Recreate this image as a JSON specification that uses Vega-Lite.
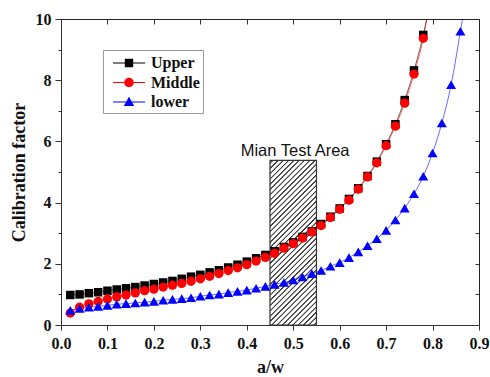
{
  "$schema": "https://vega.github.io/schema/vega-lite/v6.json",
  "autosize": "none",
  "width": 418,
  "height": 306,
  "padding": {"left": 61, "top": 19, "right": 11, "bottom": 52},
  "background": "white",
  "config": {
    "view": {"stroke": "#222", "strokeWidth": 1},
    "axis": {"grid": false}
  },
  "datasets": {
    "curves": [
      {"x": 0.02, "y": 0.98, "s": "Upper"}, {"x": 0.04, "y": 1.00, "s": "Upper"}, {"x": 0.06, "y": 1.04, "s": "Upper"}, {"x": 0.08, "y": 1.07, "s": "Upper"},
      {"x": 0.10, "y": 1.12, "s": "Upper"}, {"x": 0.12, "y": 1.16, "s": "Upper"}, {"x": 0.14, "y": 1.20, "s": "Upper"}, {"x": 0.16, "y": 1.24, "s": "Upper"},
      {"x": 0.18, "y": 1.29, "s": "Upper"}, {"x": 0.20, "y": 1.34, "s": "Upper"}, {"x": 0.22, "y": 1.39, "s": "Upper"}, {"x": 0.24, "y": 1.44, "s": "Upper"},
      {"x": 0.26, "y": 1.51, "s": "Upper"}, {"x": 0.28, "y": 1.58, "s": "Upper"}, {"x": 0.30, "y": 1.64, "s": "Upper"}, {"x": 0.32, "y": 1.72, "s": "Upper"},
      {"x": 0.34, "y": 1.79, "s": "Upper"}, {"x": 0.36, "y": 1.88, "s": "Upper"}, {"x": 0.38, "y": 1.97, "s": "Upper"}, {"x": 0.40, "y": 2.07, "s": "Upper"},
      {"x": 0.42, "y": 2.18, "s": "Upper"}, {"x": 0.44, "y": 2.29, "s": "Upper"}, {"x": 0.46, "y": 2.41, "s": "Upper"}, {"x": 0.48, "y": 2.55, "s": "Upper"},
      {"x": 0.50, "y": 2.70, "s": "Upper"}, {"x": 0.52, "y": 2.88, "s": "Upper"}, {"x": 0.54, "y": 3.06, "s": "Upper"}, {"x": 0.56, "y": 3.30, "s": "Upper"},
      {"x": 0.58, "y": 3.54, "s": "Upper"}, {"x": 0.60, "y": 3.81, "s": "Upper"}, {"x": 0.62, "y": 4.12, "s": "Upper"}, {"x": 0.64, "y": 4.47, "s": "Upper"},
      {"x": 0.66, "y": 4.87, "s": "Upper"}, {"x": 0.68, "y": 5.34, "s": "Upper"}, {"x": 0.70, "y": 5.91, "s": "Upper"}, {"x": 0.72, "y": 6.56, "s": "Upper"},
      {"x": 0.74, "y": 7.35, "s": "Upper"}, {"x": 0.76, "y": 8.32, "s": "Upper"}, {"x": 0.78, "y": 9.48, "s": "Upper"}, {"x": 0.79, "y": 10.2, "s": "Upper", "tail": true},
      {"x": 0.02, "y": 0.39, "s": "Middle"}, {"x": 0.04, "y": 0.58, "s": "Middle"}, {"x": 0.06, "y": 0.69, "s": "Middle"}, {"x": 0.08, "y": 0.77, "s": "Middle"},
      {"x": 0.10, "y": 0.85, "s": "Middle"}, {"x": 0.12, "y": 0.92, "s": "Middle"}, {"x": 0.14, "y": 0.98, "s": "Middle"}, {"x": 0.16, "y": 1.05, "s": "Middle"},
      {"x": 0.18, "y": 1.12, "s": "Middle"}, {"x": 0.20, "y": 1.17, "s": "Middle"}, {"x": 0.22, "y": 1.24, "s": "Middle"}, {"x": 0.24, "y": 1.30, "s": "Middle"},
      {"x": 0.26, "y": 1.36, "s": "Middle"}, {"x": 0.28, "y": 1.43, "s": "Middle"}, {"x": 0.30, "y": 1.51, "s": "Middle"}, {"x": 0.32, "y": 1.59, "s": "Middle"},
      {"x": 0.34, "y": 1.68, "s": "Middle"}, {"x": 0.36, "y": 1.78, "s": "Middle"}, {"x": 0.38, "y": 1.87, "s": "Middle"}, {"x": 0.40, "y": 1.97, "s": "Middle"},
      {"x": 0.42, "y": 2.09, "s": "Middle"}, {"x": 0.44, "y": 2.21, "s": "Middle"}, {"x": 0.46, "y": 2.34, "s": "Middle"}, {"x": 0.48, "y": 2.51, "s": "Middle"},
      {"x": 0.50, "y": 2.66, "s": "Middle"}, {"x": 0.52, "y": 2.84, "s": "Middle"}, {"x": 0.54, "y": 3.04, "s": "Middle"}, {"x": 0.56, "y": 3.25, "s": "Middle"},
      {"x": 0.58, "y": 3.51, "s": "Middle"}, {"x": 0.60, "y": 3.78, "s": "Middle"}, {"x": 0.62, "y": 4.08, "s": "Middle"}, {"x": 0.64, "y": 4.44, "s": "Middle"},
      {"x": 0.66, "y": 4.84, "s": "Middle"}, {"x": 0.68, "y": 5.30, "s": "Middle"}, {"x": 0.70, "y": 5.86, "s": "Middle"}, {"x": 0.72, "y": 6.50, "s": "Middle"},
      {"x": 0.74, "y": 7.25, "s": "Middle"}, {"x": 0.76, "y": 8.20, "s": "Middle"}, {"x": 0.78, "y": 9.37, "s": "Middle"}, {"x": 0.79, "y": 10.2, "s": "Middle", "tail": true},
      {"x": 0.02, "y": 0.48, "s": "lower"}, {"x": 0.04, "y": 0.54, "s": "lower"}, {"x": 0.06, "y": 0.58, "s": "lower"}, {"x": 0.08, "y": 0.61, "s": "lower"},
      {"x": 0.10, "y": 0.64, "s": "lower"}, {"x": 0.12, "y": 0.68, "s": "lower"}, {"x": 0.14, "y": 0.70, "s": "lower"}, {"x": 0.16, "y": 0.72, "s": "lower"},
      {"x": 0.18, "y": 0.75, "s": "lower"}, {"x": 0.20, "y": 0.77, "s": "lower"}, {"x": 0.22, "y": 0.81, "s": "lower"}, {"x": 0.24, "y": 0.84, "s": "lower"},
      {"x": 0.26, "y": 0.86, "s": "lower"}, {"x": 0.28, "y": 0.89, "s": "lower"}, {"x": 0.30, "y": 0.94, "s": "lower"}, {"x": 0.32, "y": 0.98, "s": "lower"},
      {"x": 0.34, "y": 1.01, "s": "lower"}, {"x": 0.36, "y": 1.06, "s": "lower"}, {"x": 0.38, "y": 1.10, "s": "lower"}, {"x": 0.40, "y": 1.14, "s": "lower"},
      {"x": 0.42, "y": 1.20, "s": "lower"}, {"x": 0.44, "y": 1.26, "s": "lower"}, {"x": 0.46, "y": 1.33, "s": "lower"}, {"x": 0.48, "y": 1.39, "s": "lower"},
      {"x": 0.50, "y": 1.47, "s": "lower"}, {"x": 0.52, "y": 1.57, "s": "lower"}, {"x": 0.54, "y": 1.68, "s": "lower"}, {"x": 0.56, "y": 1.78, "s": "lower"},
      {"x": 0.58, "y": 1.92, "s": "lower"}, {"x": 0.60, "y": 2.04, "s": "lower"}, {"x": 0.62, "y": 2.20, "s": "lower"}, {"x": 0.64, "y": 2.39, "s": "lower"},
      {"x": 0.66, "y": 2.59, "s": "lower"}, {"x": 0.68, "y": 2.82, "s": "lower"}, {"x": 0.70, "y": 3.09, "s": "lower"}, {"x": 0.72, "y": 3.43, "s": "lower"},
      {"x": 0.74, "y": 3.82, "s": "lower"}, {"x": 0.76, "y": 4.29, "s": "lower"}, {"x": 0.78, "y": 4.86, "s": "lower"}, {"x": 0.80, "y": 5.62, "s": "lower"},
      {"x": 0.82, "y": 6.60, "s": "lower"}, {"x": 0.84, "y": 7.85, "s": "lower"}, {"x": 0.86, "y": 9.60, "s": "lower"}, {"x": 0.87, "y": 10.5, "s": "lower", "tail": true}
    ],
    "box": [{"x0": 0.45, "x1": 0.55, "y0": 0, "y1": 5.38}],
    "note": [{"x": 0.504, "y": 5.53, "label": "Mian Test Area"}]
  },
  "layer": [
    {
      "data": {"name": "box"},
      "mark": {
        "type": "rect",
        "stroke": "#333",
        "strokeWidth": 1.2,
        "fill": {
          "gradient": "linear", "x1": 0, "y1": 0, "x2": 0.3349, "y2": 1.1876,
          "stops": [
            {"offset": 0.000, "color": "#ffffff"},
            {"offset": 0.008, "color": "#ffffff"}, {"offset": 0.011, "color": "#444444"}, {"offset": 0.016, "color": "#444444"}, {"offset": 0.019, "color": "#ffffff"},
            {"offset": 0.033, "color": "#ffffff"}, {"offset": 0.036, "color": "#444444"}, {"offset": 0.041, "color": "#444444"}, {"offset": 0.044, "color": "#ffffff"},
            {"offset": 0.058, "color": "#ffffff"}, {"offset": 0.061, "color": "#444444"}, {"offset": 0.066, "color": "#444444"}, {"offset": 0.069, "color": "#ffffff"},
            {"offset": 0.083, "color": "#ffffff"}, {"offset": 0.086, "color": "#444444"}, {"offset": 0.091, "color": "#444444"}, {"offset": 0.094, "color": "#ffffff"},
            {"offset": 0.108, "color": "#ffffff"}, {"offset": 0.111, "color": "#444444"}, {"offset": 0.116, "color": "#444444"}, {"offset": 0.119, "color": "#ffffff"},
            {"offset": 0.133, "color": "#ffffff"}, {"offset": 0.136, "color": "#444444"}, {"offset": 0.141, "color": "#444444"}, {"offset": 0.144, "color": "#ffffff"},
            {"offset": 0.158, "color": "#ffffff"}, {"offset": 0.161, "color": "#444444"}, {"offset": 0.166, "color": "#444444"}, {"offset": 0.169, "color": "#ffffff"},
            {"offset": 0.183, "color": "#ffffff"}, {"offset": 0.186, "color": "#444444"}, {"offset": 0.191, "color": "#444444"}, {"offset": 0.194, "color": "#ffffff"},
            {"offset": 0.208, "color": "#ffffff"}, {"offset": 0.211, "color": "#444444"}, {"offset": 0.216, "color": "#444444"}, {"offset": 0.219, "color": "#ffffff"},
            {"offset": 0.233, "color": "#ffffff"}, {"offset": 0.236, "color": "#444444"}, {"offset": 0.241, "color": "#444444"}, {"offset": 0.244, "color": "#ffffff"},
            {"offset": 0.258, "color": "#ffffff"}, {"offset": 0.261, "color": "#444444"}, {"offset": 0.266, "color": "#444444"}, {"offset": 0.269, "color": "#ffffff"},
            {"offset": 0.283, "color": "#ffffff"}, {"offset": 0.286, "color": "#444444"}, {"offset": 0.291, "color": "#444444"}, {"offset": 0.294, "color": "#ffffff"},
            {"offset": 0.308, "color": "#ffffff"}, {"offset": 0.311, "color": "#444444"}, {"offset": 0.316, "color": "#444444"}, {"offset": 0.319, "color": "#ffffff"},
            {"offset": 0.333, "color": "#ffffff"}, {"offset": 0.336, "color": "#444444"}, {"offset": 0.341, "color": "#444444"}, {"offset": 0.344, "color": "#ffffff"},
            {"offset": 0.358, "color": "#ffffff"}, {"offset": 0.361, "color": "#444444"}, {"offset": 0.366, "color": "#444444"}, {"offset": 0.369, "color": "#ffffff"},
            {"offset": 0.383, "color": "#ffffff"}, {"offset": 0.386, "color": "#444444"}, {"offset": 0.391, "color": "#444444"}, {"offset": 0.394, "color": "#ffffff"},
            {"offset": 0.408, "color": "#ffffff"}, {"offset": 0.411, "color": "#444444"}, {"offset": 0.416, "color": "#444444"}, {"offset": 0.419, "color": "#ffffff"},
            {"offset": 0.433, "color": "#ffffff"}, {"offset": 0.436, "color": "#444444"}, {"offset": 0.441, "color": "#444444"}, {"offset": 0.444, "color": "#ffffff"},
            {"offset": 0.458, "color": "#ffffff"}, {"offset": 0.461, "color": "#444444"}, {"offset": 0.466, "color": "#444444"}, {"offset": 0.469, "color": "#ffffff"},
            {"offset": 0.483, "color": "#ffffff"}, {"offset": 0.486, "color": "#444444"}, {"offset": 0.491, "color": "#444444"}, {"offset": 0.494, "color": "#ffffff"},
            {"offset": 0.508, "color": "#ffffff"}, {"offset": 0.511, "color": "#444444"}, {"offset": 0.516, "color": "#444444"}, {"offset": 0.519, "color": "#ffffff"},
            {"offset": 0.533, "color": "#ffffff"}, {"offset": 0.536, "color": "#444444"}, {"offset": 0.541, "color": "#444444"}, {"offset": 0.544, "color": "#ffffff"},
            {"offset": 0.558, "color": "#ffffff"}, {"offset": 0.561, "color": "#444444"}, {"offset": 0.566, "color": "#444444"}, {"offset": 0.569, "color": "#ffffff"},
            {"offset": 0.583, "color": "#ffffff"}, {"offset": 0.586, "color": "#444444"}, {"offset": 0.591, "color": "#444444"}, {"offset": 0.594, "color": "#ffffff"},
            {"offset": 0.608, "color": "#ffffff"}, {"offset": 0.611, "color": "#444444"}, {"offset": 0.616, "color": "#444444"}, {"offset": 0.619, "color": "#ffffff"},
            {"offset": 0.633, "color": "#ffffff"}, {"offset": 0.636, "color": "#444444"}, {"offset": 0.641, "color": "#444444"}, {"offset": 0.644, "color": "#ffffff"},
            {"offset": 0.658, "color": "#ffffff"}, {"offset": 0.661, "color": "#444444"}, {"offset": 0.666, "color": "#444444"}, {"offset": 0.669, "color": "#ffffff"},
            {"offset": 0.683, "color": "#ffffff"}, {"offset": 0.686, "color": "#444444"}, {"offset": 0.691, "color": "#444444"}, {"offset": 0.694, "color": "#ffffff"},
            {"offset": 0.708, "color": "#ffffff"}, {"offset": 0.711, "color": "#444444"}, {"offset": 0.716, "color": "#444444"}, {"offset": 0.719, "color": "#ffffff"},
            {"offset": 0.733, "color": "#ffffff"}, {"offset": 0.736, "color": "#444444"}, {"offset": 0.741, "color": "#444444"}, {"offset": 0.744, "color": "#ffffff"},
            {"offset": 0.758, "color": "#ffffff"}, {"offset": 0.761, "color": "#444444"}, {"offset": 0.766, "color": "#444444"}, {"offset": 0.769, "color": "#ffffff"},
            {"offset": 0.783, "color": "#ffffff"}, {"offset": 0.786, "color": "#444444"}, {"offset": 0.791, "color": "#444444"}, {"offset": 0.794, "color": "#ffffff"},
            {"offset": 0.808, "color": "#ffffff"}, {"offset": 0.811, "color": "#444444"}, {"offset": 0.816, "color": "#444444"}, {"offset": 0.819, "color": "#ffffff"},
            {"offset": 0.833, "color": "#ffffff"}, {"offset": 0.836, "color": "#444444"}, {"offset": 0.841, "color": "#444444"}, {"offset": 0.844, "color": "#ffffff"},
            {"offset": 0.858, "color": "#ffffff"}, {"offset": 0.861, "color": "#444444"}, {"offset": 0.866, "color": "#444444"}, {"offset": 0.869, "color": "#ffffff"},
            {"offset": 0.883, "color": "#ffffff"}, {"offset": 0.886, "color": "#444444"}, {"offset": 0.891, "color": "#444444"}, {"offset": 0.894, "color": "#ffffff"},
            {"offset": 0.908, "color": "#ffffff"}, {"offset": 0.911, "color": "#444444"}, {"offset": 0.916, "color": "#444444"}, {"offset": 0.919, "color": "#ffffff"},
            {"offset": 0.933, "color": "#ffffff"}, {"offset": 0.936, "color": "#444444"}, {"offset": 0.941, "color": "#444444"}, {"offset": 0.944, "color": "#ffffff"},
            {"offset": 0.958, "color": "#ffffff"}, {"offset": 0.961, "color": "#444444"}, {"offset": 0.966, "color": "#444444"}, {"offset": 0.969, "color": "#ffffff"},
            {"offset": 0.983, "color": "#ffffff"}, {"offset": 0.986, "color": "#444444"}, {"offset": 0.991, "color": "#444444"}, {"offset": 0.994, "color": "#ffffff"},
            {"offset": 1.000, "color": "#ffffff"}
          ]
        }
      },
      "encoding": {
        "x": {"field": "x0", "type": "quantitative", "scale": {"domain": [0, 0.9], "nice": false},
              "axis": {"orient": "top", "values": [0.1, 0.2, 0.3, 0.4, 0.5, 0.6, 0.7, 0.8], "labels": false, "domain": false, "title": null, "tickSize": -5, "tickColor": "#333", "tickWidth": 1}},
        "x2": {"field": "x1"},
        "y": {"field": "y0", "type": "quantitative", "scale": {"domain": [0, 10], "nice": false},
              "axis": {"orient": "right", "values": [1, 2, 3, 4, 5, 6, 7, 8, 9], "labels": false, "domain": false, "title": null, "tickSize": -4, "tickColor": "#333", "tickWidth": 1}},
        "y2": {"field": "y1"}
      }
    },
    {
      "data": {"name": "note"},
      "mark": {"type": "text", "font": "Liberation Sans", "fontSize": 16.5, "color": "#111", "align": "center", "baseline": "alphabetic"},
      "encoding": {
        "x": {"field": "x", "type": "quantitative", "axis": null},
        "y": {"field": "y", "type": "quantitative", "axis": null},
        "text": {"field": "label"}
      }
    },
    {
      "data": {"name": "curves"},
      "mark": {"type": "line", "strokeWidth": 0.9, "opacity": 0.65, "interpolate": "monotone", "clip": true},
      "encoding": {
        "x": {"field": "x", "type": "quantitative",
              "axis": {"orient": "bottom", "values": [0, 0.1, 0.2, 0.3, 0.4, 0.5, 0.6, 0.7, 0.8, 0.9], "format": ".1f",
                       "labelFont": "Liberation Serif", "labelFontWeight": "bold", "labelFontSize": 16, "labelColor": "#111", "labelPadding": 5,
                       "tickSize": 5, "tickColor": "#333", "domainColor": "#333", "labelFlush": false, "labelOverlap": false,
                       "title": "a/w", "titleFont": "Liberation Serif", "titleFontWeight": "bold", "titleFontSize": 18, "titleColor": "#111", "titlePadding": 7}},
        "y": {"field": "y", "type": "quantitative",
              "axis": {"orient": "left", "values": [0, 1, 2, 3, 4, 5, 6, 7, 8, 9, 10],
                       "labelExpr": "datum.value % 2 === 0 ? datum.label : ''",
                       "labelFont": "Liberation Serif", "labelFontWeight": "bold", "labelFontSize": 16, "labelColor": "#111", "labelPadding": 4,
                       "tickSize": {"condition": {"test": "datum.value % 2 === 1", "value": 3}, "value": 6},
                       "tickColor": "#333", "domainColor": "#333", "labelFlush": false, "labelOverlap": false,
                       "title": "Calibration factor", "titleFont": "Liberation Serif", "titleFontWeight": "bold", "titleFontSize": 18, "titleColor": "#111", "titlePadding": 7}},
        "color": {"field": "s", "type": "nominal", "scale": {"domain": ["Upper", "Middle", "lower"], "range": ["#000000", "#ff0000", "#0000ff"]}, "legend": null},
        "order": {"field": "x"}
      }
    },
    {
      "data": {"name": "curves"},
      "transform": [{"filter": "!datum.tail"}],
      "mark": {"type": "point", "filled": true, "opacity": 1, "strokeWidth": 0},
      "encoding": {
        "x": {"field": "x", "type": "quantitative", "axis": null},
        "y": {"field": "y", "type": "quantitative", "axis": null},
        "color": {"field": "s", "type": "nominal", "scale": {"domain": ["Upper", "Middle", "lower"], "range": ["#000000", "#ff0000", "#0000ff"]}, "legend": null},
        "shape": {"field": "s", "type": "nominal", "scale": {"domain": ["Upper", "Middle", "lower"], "range": ["square", "circle", "triangle-up"]}, "legend": null},
        "size": {"field": "s", "type": "nominal", "scale": {"domain": ["Upper", "Middle", "lower"], "range": [72, 100, 110]}, "legend": null}
      }
    },
    {
      "data": {"name": "curves"},
      "transform": [{"filter": "false"}],
      "mark": {"type": "point", "filled": true, "opacity": 1},
      "encoding": {
        "x": {"field": "x", "type": "quantitative", "axis": null},
        "y": {"field": "y", "type": "quantitative", "axis": null},
        "color": {"field": "s", "type": "nominal", "scale": {"domain": ["Upper", "Middle", "lower"], "range": ["#000000", "#ff0000", "#0000ff"]},
                  "legend": {"orient": "none", "legendX": 42, "legendY": 31, "title": null, "padding": 3, "rowPadding": 1.5, "labelOffset": 25,
                             "strokeColor": "#999", "fillColor": "#ffffff", "symbolSize": 400, "symbolStrokeWidth": 0, "symbolOpacity": 1,
                             "labelFont": "Liberation Serif", "labelFontWeight": "bold", "labelFontSize": 16, "labelColor": "#111"}},
        "shape": {"field": "s", "type": "nominal",
                  "scale": {"domain": ["Upper", "Middle", "lower"],
                            "range": ["M-0.3,-0.05H2.9V0.05H-0.3Z M0.88,-0.42H1.72V0.42H0.88Z",
                                      "M-0.3,-0.05H2.9V0.05H-0.3Z M0.83,0A0.47,0.47 0 1,1 1.77,0A0.47,0.47 0 1,1 0.83,0Z",
                                      "M-0.3,-0.05H2.9V0.05H-0.3Z M1.3,-0.52L1.82,0.4L0.78,0.4Z"]},
                  "legend": {"orient": "none", "legendX": 42, "legendY": 31, "title": null, "padding": 3, "rowPadding": 1.5, "labelOffset": 25,
                             "strokeColor": "#999", "fillColor": "#ffffff", "symbolSize": 400, "symbolStrokeWidth": 0, "symbolOpacity": 1,
                             "labelFont": "Liberation Serif", "labelFontWeight": "bold", "labelFontSize": 16, "labelColor": "#111"}}
      }
    }
  ],
  "resolve": {
    "axis": {"x": "independent", "y": "independent"},
    "scale": {"shape": "independent", "size": "independent", "color": "independent"},
    "legend": {"shape": "independent", "color": "independent"}
  }
}
